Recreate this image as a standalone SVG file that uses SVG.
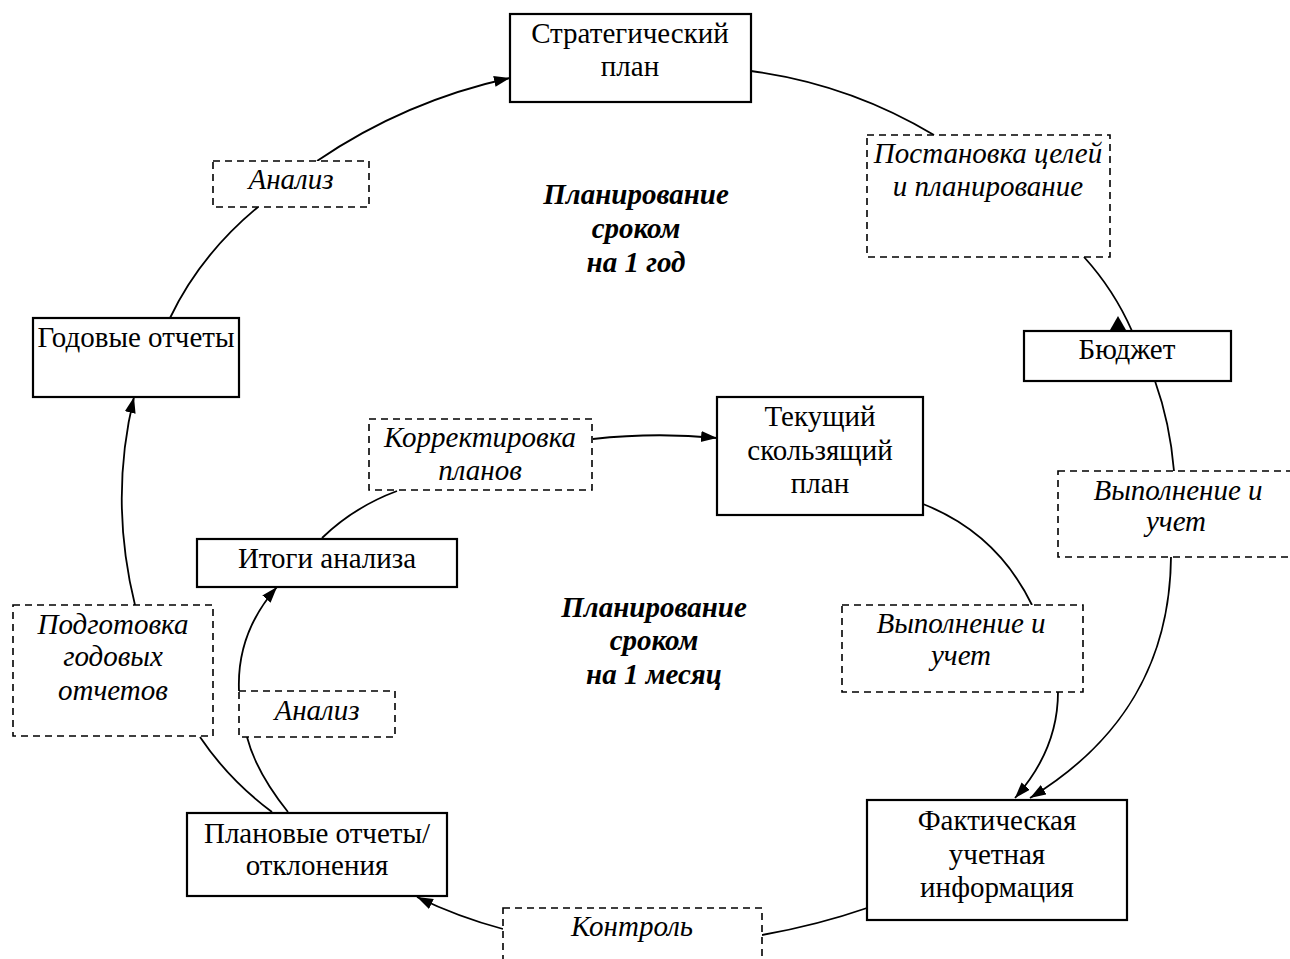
<svg xmlns="http://www.w3.org/2000/svg" width="1290" height="959" viewBox="0 0 1290 959">
<style>
  .node rect { fill: #fff; stroke: #000; stroke-width: 2.2; }
  .lbl rect { fill: #fff; stroke: #000; stroke-width: 1.6; stroke-dasharray: 7 5; }
  text { font-family: "Liberation Serif", "Times New Roman", serif; font-size: 29px; fill: #000; text-anchor: middle; }
  .lbl text { font-style: italic; }
  .title text { font-style: italic; font-weight: bold; }
  .conn path { fill: none; stroke: #000; stroke-width: 1.8; }
</style>
<defs>
  <marker id="arr" markerUnits="userSpaceOnUse" markerWidth="17" markerHeight="12" refX="16" refY="5.5" orient="auto">
    <path d="M0,0 L16,5.5 L0,11 z" fill="#000"/>
  </marker>
</defs>
<rect x="0" y="0" width="1290" height="959" fill="#fff"/>

<g id="connectors" class="conn">
  <path d="M170,318 Q200,255 258,207"/>
  <path d="M317,161 Q405,101 510,78" marker-end="url(#arr)"/>
  <path d="M751,71 Q849,84 934,135"/>
  <path d="M1084,257 Q1114,290 1132,331"/>
  <polygon points="1110,330 1126,330 1118,316" fill="#000" stroke="none"/>
  <path d="M1155,381 Q1170,423 1174,471"/>
  <path d="M1171,557 C1170,660 1125,740 1030,798" marker-end="url(#arr)"/>
  <path d="M867,908 Q818,925 762,935"/>
  <path d="M503,929 Q458,917 417,897" marker-end="url(#arr)"/>
  <path d="M272,812 Q229,780 200,737"/>
  <path d="M135,605 Q109,500 134,397" marker-end="url(#arr)"/>
  <path d="M288,812 Q256,772 247,737"/>
  <path d="M239,691 C237,645 255,612 277,587" marker-end="url(#arr)"/>
  <path d="M322,538 Q354,507 397,491"/>
  <path d="M593,439 Q655,432 717,438" marker-end="url(#arr)"/>
  <path d="M923,504 Q997,533 1032,605"/>
  <path d="M1058,692 C1058,735 1040,770 1015,798" marker-end="url(#arr)"/>
</g>

<g id="n-strat" class="node">
  <rect x="510" y="14" width="241" height="88"/>
  <text x="630" y="43">Стратегический</text>
  <text x="630" y="76">план</text>
</g>
<g id="l-analiz1" class="lbl">
  <rect x="213" y="161" width="156" height="46"/>
  <text x="291" y="189">Анализ</text>
</g>
<g id="l-postanovka" class="lbl">
  <rect x="867" y="135" width="243" height="122"/>
  <text x="988" y="163">Постановка целей</text>
  <text x="988" y="196">и планирование</text>
</g>
<g id="t-year" class="title">
  <text x="636" y="204">Планирование</text>
  <text x="636" y="238">сроком</text>
  <text x="636" y="272">на 1 год</text>
</g>
<g id="n-godovye" class="node">
  <rect x="33" y="318" width="206" height="79"/>
  <text x="136" y="347">Годовые отчеты</text>
</g>
<g id="n-budget" class="node">
  <rect x="1024" y="331" width="207" height="50"/>
  <text x="1127" y="359">Бюджет</text>
</g>
<g id="n-tekushiy" class="node">
  <rect x="717" y="397" width="206" height="118"/>
  <text x="820" y="426">Текущий</text>
  <text x="820" y="460">скользящий</text>
  <text x="820" y="493">план</text>
</g>
<g id="l-korrekt" class="lbl">
  <rect x="369" y="419" width="223" height="71"/>
  <text x="480" y="447">Корректировка</text>
  <text x="480" y="480">планов</text>
</g>
<g id="l-vypoln1" class="lbl">
  <rect x="1058" y="471" width="240" height="86"/>
  <text x="1178" y="500">Выполнение и</text>
  <text x="1176" y="531">учет</text>
</g>
<g id="n-itogi" class="node">
  <rect x="197" y="539" width="260" height="48"/>
  <text x="327" y="568">Итоги анализа</text>
</g>
<g id="t-month" class="title">
  <text x="654" y="617">Планирование</text>
  <text x="654" y="650">сроком</text>
  <text x="654" y="684">на 1 месяц</text>
</g>
<g id="l-vypoln2" class="lbl">
  <rect x="842" y="605" width="241" height="87"/>
  <text x="961" y="633">Выполнение и</text>
  <text x="961" y="665">учет</text>
</g>
<g id="l-podgotovka" class="lbl">
  <rect x="13" y="605" width="200" height="131"/>
  <text x="113" y="634">Подготовка</text>
  <text x="113" y="666">годовых</text>
  <text x="113" y="700">отчетов</text>
</g>
<g id="l-analiz2" class="lbl">
  <rect x="239" y="691" width="156" height="46"/>
  <text x="317" y="720">Анализ</text>
</g>
<g id="n-planovye" class="node">
  <rect x="187" y="813" width="260" height="83"/>
  <text x="317" y="843">Плановые отчеты/</text>
  <text x="317" y="875">отклонения</text>
</g>
<g id="n-fakt" class="node">
  <rect x="867" y="800" width="260" height="120"/>
  <text x="997" y="830">Фактическая</text>
  <text x="997" y="864">учетная</text>
  <text x="997" y="897">информация</text>
</g>
<g id="l-kontrol" class="lbl">
  <rect x="503" y="908" width="259" height="80"/>
  <text x="632" y="936">Контроль</text>
</g>
</svg>
